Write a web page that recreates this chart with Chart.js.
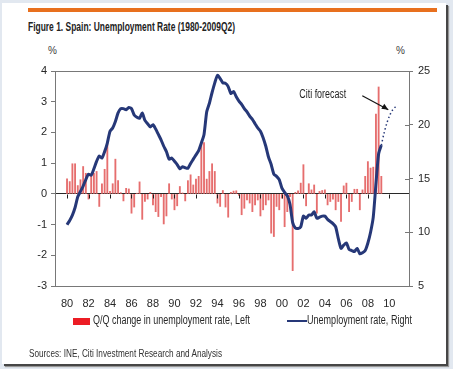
<!DOCTYPE html>
<html lang="en">
<head>
  <meta charset="UTF-8">
  <title>Spain unemployment</title>
  <script src="https://cdn.jsdelivr.net/npm/chart.js"></script>
  <style>
    body {
      margin: 0;
      width: 453px;
      height: 369px;
      overflow: hidden;
      background-color: rgb(226, 232, 240);
      font-family: "Liberation Sans", Arial, sans-serif;
      color: rgb(34, 34, 34);
      position: relative;
    }
    .panel {
      position: absolute;
      left: 2px;
      top: 3px;
      width: 444px;
      height: 361px;
      background-color: white;
      box-shadow: 2px 2px 0 rgb(70, 70, 70), 3px 3px 1px rgb(150, 150, 150);
    }
    .orange {
      position: absolute;
      left: 28px;
      top: 8px;
      width: 409px;
      height: 4px;
      background-color: rgb(232, 112, 30);
    }
    .narrow {
      position: absolute;
      white-space: nowrap;
      transform-origin: 0 0;
    }
    .title {
      left: 28px;
      top: 19px;
      font-size: 13.5px;
      font-weight: bold;
    }
    .pct {
      position: absolute;
      top: 45px;
      font-size: 10px;
      color: rgb(60, 60, 60);
    }
    .legtext {
      top: 313px;
      font-size: 12px;
      color: rgb(40, 40, 40);
    }
    .sources {
      left: 29px;
      top: 347px;
      font-size: 11px;
      color: rgb(50, 50, 50);
    }
    canvas {
      position: absolute;
      left: 0;
      top: 0;
    }
  </style>
</head>
<body>
<div class="panel"></div>
<div class="orange"></div>
<div class="narrow title" data-w="207">Figure 1. Spain: Unemployment Rate (1980-2009Q2)</div>
<div class="pct" style="left:48px">%</div>
<div class="pct" style="left:396px">%</div>

<canvas id="spainChart" width="453" height="369"></canvas>

<div style="position:absolute; left:73px; top:318px; width:17px; height:7px; background:rgb(236, 28, 36)"></div>
<div class="narrow legtext" id="legBars" style="left:93px" data-w="157"></div>
<div style="position:absolute; left:287px; top:320px; width:20px; height:2px; background:rgb(38, 56, 120)"></div>
<div class="narrow legtext" id="legLine" style="left:307px" data-w="105"></div>
<div class="narrow sources" data-w="193">Sources: INE, Citi Investment Research and Analysis</div>

<script>
  // quarters 1980Q1 .. 2010Q4
  const firstYear = 1980;
  const quarters = [];
  for (let y = 1980; y <= 2010; y++) {
    for (let q = 1; q <= 4; q++) {
      quarters.push(y + '-Q' + q);
    }
  }
  const xTickYears = [1980, 1982, 1984, 1986, 1988, 1990, 1992, 1994, 1996, 1998, 2000, 2002, 2004, 2006, 2008, 2010];
  const leftTicks = [-3, -2, -1, 0, 1, 2, 3, 4];
  const rightTicks = [5, 10, 15, 20, 25];

  // Q/Q change in unemployment rate (left axis), 1980Q1 - 2009Q2
  const qqChange = [
    0.49, 0.40, 0.98, 0.98, 0.27, 0.46, 0.89, 0.67,
    -0.17, 0.62, 0.67, 0.73, -0.41, 0.33, 0.80, 1.63,
    0.08, 0.33, 1.13, 0.43, 0.04, -0.23, 0.18, 0.16,
    -0.63, -0.43, 0.02, 0.39, -0.83, -0.25, -0.17, 0.05,
    -0.36, -0.58, -0.74, -0.09, -0.98, -0.72, 0.33, -0.17,
    -0.52, -0.39, 0.24, 0.03, -0.23, 0.43, 0.62, 0.29,
    0.48, 0.57, 1.65, 1.67, 0.48, 0.73, 0.98, 0.73,
    -0.30, -0.41, 0.11, -0.43, -0.76, 0.05, 0.09, 0.10,
    -0.05, -0.68, -0.47, -0.20, -0.30, -0.58, -0.36, -0.20,
    -0.72, -0.52, -0.36, -0.20, -1.28, -1.39, -0.41, -0.52,
    -0.14, -1.07, -0.58, -0.09, -2.50, 0.05, 0.10, 0.35,
    0.95, -0.39, 0.33, 0.13, 0.29, -0.63, 0.08, 0.11,
    0.13, -0.36, -0.25, -0.17, -0.52, -0.25, -0.90, 0.26,
    0.35, -0.58, -0.25, 0.15, 0.15, -0.52, 0.13, 0.57,
    1.05, 0.84, 0.87, 2.60, 3.48, 0.57
  ];

  // unemployment rate (right axis), 1980Q1 - 2009Q2
  const unempRate = [
    10.7, 11.1, 11.6, 12.3, 13.3, 13.8, 14.3, 14.9,
    15.4, 15.3, 15.9, 16.6, 17.1, 16.9, 17.5, 18.3,
    19.4, 19.7, 20.3, 21.1, 21.5, 21.5, 21.4, 21.6,
    21.5, 20.9, 20.7, 20.6, 21.1, 20.4, 20.1, 19.8,
    20.0, 19.6, 19.1, 18.6, 18.0, 17.5, 16.8, 16.9,
    16.6, 16.3, 15.9, 16.1, 16.0, 15.95, 16.4, 16.8,
    17.2, 17.6, 18.3, 19.1, 21.2, 22.0, 23.0, 23.9,
    24.6, 24.3, 23.9, 23.85, 23.55, 22.9, 23.1, 22.6,
    22.2, 21.9, 21.5, 21.2, 20.8, 20.5, 20.1, 19.7,
    19.4, 18.8, 18.0, 17.0, 16.3, 15.4, 15.2, 14.9,
    14.1, 13.7, 13.4, 12.6, 10.9, 10.4, 10.35, 10.5,
    11.5, 11.3, 11.6, 11.6, 11.9, 11.3, 11.4, 11.5,
    11.5, 11.2, 11.0, 10.8, 10.5, 9.4, 8.5, 8.8,
    9.0, 8.4, 8.3, 8.2, 8.5, 8.0, 8.1, 8.3,
    9.0, 10.0, 11.4, 14.5, 17.3, 18.1
  ];

  // Citi forecast, 2009Q2 - 2010Q4
  const forecastStart = '2009-Q2';
  const forecastRate = [18.1, 19.2, 20.1, 20.8, 21.3, 21.6, 21.8];

  const barColor = 'rgb(230, 110, 110)';
  const lineColor = 'rgb(38, 56, 120)';
  const axisFont = {family: '"Liberation Sans", Arial, sans-serif', size: 11};

  function qPos(label) {
    let parts = label.split('-Q');
    return Number(parts[0]) + (Number(parts[1]) - 1) / 4;
  }

  const barPoints = qqChange.map((v, i) => ({x: qPos(quarters[i]), y: v}));
  const linePoints = unempRate.map((v, i) => ({x: qPos(quarters[i]), y: v}));
  const fStart = quarters.indexOf(forecastStart);
  const forecastPoints = forecastRate.map((v, i) => ({x: qPos(quarters[fStart + i]), y: v}));

  document.getElementById('legBars').textContent = 'Q/Q change in unemployment rate, Left';
  document.getElementById('legLine').textContent = 'Unemployment rate, Right';

  // squeeze the condensed texts to their width in the original
  document.querySelectorAll('.narrow').forEach(el => {
    const w = el.getBoundingClientRect().width;
    el.style.transform = 'scaleX(' + (Number(el.dataset.w) / w) + ')';
  });

  // frame, ticks on the zero line and the forecast note
  const decorations = {
    id: 'decorations',
    afterDatasetsDraw(chart) {
      const ctx = chart.ctx;
      const a = chart.chartArea;
      const x = chart.scales.x;
      const y = chart.scales.y;
      const y1 = chart.scales.y1;
      ctx.save();
      ctx.strokeStyle = 'rgb(120, 120, 120)';
      ctx.lineWidth = 1;
      ctx.strokeRect(Math.round(a.left) - 0.5, Math.round(a.top) + 0.5, Math.round(a.right - a.left) + 1, Math.round(a.bottom - a.top));

      // small ticks under the zero line
      const zero = Math.round(y.getPixelForValue(0)) + 0.5;
      ctx.strokeStyle = 'rgb(30, 30, 30)';
      x.ticks.forEach(t => {
        const px = Math.round(x.getPixelForValue(t.value)) + 0.5;
        ctx.beginPath();
        ctx.moveTo(px, zero);
        ctx.lineTo(px, zero + 4);
        ctx.stroke();
      });

      // inner part of the right axis ticks
      ctx.strokeStyle = 'rgb(120, 120, 120)';
      y1.ticks.forEach(t => {
        const py = Math.round(y1.getPixelForValue(t.value)) + 0.5;
        ctx.beginPath();
        ctx.moveTo(a.right - 4, py);
        ctx.lineTo(a.right, py);
        ctx.stroke();
      });

      // Citi forecast note with arrow
      const tipX = x.getPixelForValue(2009.9);
      const tipY = y1.getPixelForValue(21.4);
      ctx.fillStyle = 'rgb(30, 30, 30)';
      ctx.font = '12px "Liberation Sans", Arial, sans-serif';
      ctx.textBaseline = 'middle';
      const label = 'Citi forecast';
      const lw = ctx.measureText(label).width;
      ctx.save();
      ctx.translate(tipX - 89, tipY - 15);
      ctx.scale(47 / lw, 1);
      ctx.fillText(label, 0, 0);
      ctx.restore();
      ctx.strokeStyle = 'rgb(20, 20, 20)';
      ctx.lineWidth = 1.2;
      ctx.beginPath();
      ctx.moveTo(tipX - 26, tipY - 14);
      ctx.lineTo(tipX, tipY);
      ctx.stroke();
      ctx.beginPath();
      ctx.moveTo(tipX, tipY);
      ctx.lineTo(tipX - 7, tipY - 1);
      ctx.lineTo(tipX - 4, tipY - 6);
      ctx.closePath();
      ctx.fillStyle = 'rgb(20, 20, 20)';
      ctx.fill();
      ctx.restore();
    }
  };

  new Chart(document.getElementById('spainChart'), {
    data: {
      datasets: [
        {
          type: 'line',
          label: 'Unemployment rate, Right',
          data: linePoints,
          yAxisID: 'y1',
          borderColor: lineColor,
          borderWidth: 3,
          pointRadius: 0,
          tension: 0.2,
          order: 0
        },
        {
          type: 'line',
          label: 'Citi forecast',
          data: forecastPoints,
          yAxisID: 'y1',
          borderColor: lineColor,
          borderWidth: 1.5,
          borderDash: [1.5, 2.5],
          pointRadius: 0,
          tension: 0.3,
          order: 1
        },
        {
          type: 'bar',
          label: 'Q/Q change in unemployment rate, Left',
          data: barPoints,
          yAxisID: 'y',
          backgroundColor: barColor,
          barThickness: 1.2,
          order: 2
        }
      ]
    },
    options: {
      responsive: false,
      animation: false,
      layout: {padding: {top: 71, left: 0, right: 0, bottom: 0}},
      plugins: {
        legend: {display: false},
        tooltip: {enabled: false}
      },
      scales: {
        x: {
          type: 'linear',
          position: 'bottom',
          min: firstYear,
          max: 2010.8,
          afterBuildTicks: s => { s.ticks = xTickYears.map(v => ({value: v})); },
          afterFit: s => { s.height = 83; },
          border: {display: false},
          grid: {display: false, drawTicks: false},
          ticks: {
            font: axisFont,
            color: 'rgb(40, 40, 40)',
            padding: 11,
            maxRotation: 0,
            autoSkip: false,
            callback: v => String(v % 100).padStart(2, '0')
          }
        },
        y: {
          type: 'linear',
          position: 'left',
          min: -3,
          max: 4,
          afterBuildTicks: s => { s.ticks = leftTicks.map(v => ({value: v})); },
          afterFit: s => { s.width = 56; },
          border: {display: false},
          grid: {
            drawOnChartArea: true,
            color: c => (c.tick && c.tick.value === 0) ? 'rgb(40, 40, 40)' : 'rgba(0,0,0,0)',
            tickColor: 'rgb(120, 120, 120)',
            tickLength: 5
          },
          ticks: {font: axisFont, color: 'rgb(40, 40, 40)', padding: 4}
        },
        y1: {
          type: 'linear',
          position: 'right',
          min: 5,
          max: 25,
          afterBuildTicks: s => { s.ticks = rightTicks.map(v => ({value: v})); },
          afterFit: s => { s.width = 44; },
          border: {display: false},
          grid: {drawOnChartArea: false, tickColor: 'rgb(120, 120, 120)', tickLength: 4},
          ticks: {font: axisFont, color: 'rgb(40, 40, 40)', padding: 5}
        }
      }
    },
    plugins: [decorations]
  });
</script>
</body>
</html>
